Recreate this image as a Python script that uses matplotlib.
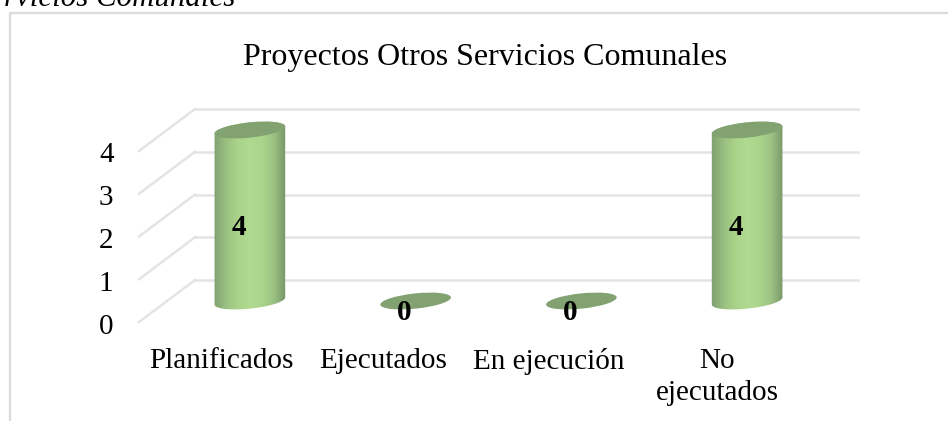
#!/usr/bin/env python3
import matplotlib

matplotlib.use("Agg")
import matplotlib.pyplot as plt
import numpy as np
from matplotlib.colors import LinearSegmentedColormap
from matplotlib.patches import Ellipse, PathPatch
from matplotlib.path import Path
from matplotlib.transforms import Affine2D

categories = ["Planificados", "Ejecutados", "En ejecución", "No\nejecutados"]
values = [4, 0, 0, 4]
yticks = [0, 1, 2, 3, 4]
title = "Proyectos Otros Servicios Comunales"
caption = "rvicios Comunales"

W, H = 948, 421
DEPTH_X, DEPTH_Y = 28, 21  # half of the fake 3D depth, px
BAR_RX, BAR_RY = 35.5, 7.6
TILT = 6
LABEL_DX = [-28, -32, -33, -30]

plt.rcParams["font.family"] = ["Liberation Serif"]

fig = plt.figure(figsize=(W / 100, H / 100), dpi=100, facecolor="white")
ax = fig.add_axes([167 / W, 1 - 301 / H, 663 / W, 171 / H])
ax.set_xlim(-0.5, 3.5)
ax.set_ylim(0, 4)
ax.set_facecolor("none")
for s in ax.spines.values():
    s.set_visible(False)

back = ax.transData + Affine2D().translate(DEPTH_X, DEPTH_Y)
front = ax.transData + Affine2D().translate(-DEPTH_X, -DEPTH_Y)

# chart frame
fig.add_artist(plt.Line2D([9.8 / W, 9.8 / W, 1], [0, 1 - 13 / H, 1 - 13 / H],
                          color="#dcdcdc", lw=1.7))

# gridlines: wall + floor side
GRID = "#e4e4e4"
x0, x1 = ax.get_xlim()
for v in yticks:
    ax.plot([x0, x1], [v, v], color=GRID, lw=1.8, transform=back, clip_on=False, zorder=1)
    p_f = front.transform((x0, v))
    p_b = back.transform((x0, v))
    ax.plot([p_f[0], p_b[0]], [p_f[1], p_b[1]], color=GRID, lw=1.8,
            transform=None, clip_on=False, zorder=1)

cmap = LinearSegmentedColormap.from_list(
    "cyl", ["#7f9f70", "#98bf80", "#aad389", "#b0da90", "#acd58c", "#9cc283", "#769668"])
grad = np.linspace(0, 1, 128).reshape(1, -1)


def ellipse_pts(cx, cy, t):
    a = np.radians(TILT)
    ex, ey = BAR_RX * np.cos(t), BAR_RY * np.sin(t)
    return cx + ex * np.cos(a) - ey * np.sin(a), cy + ex * np.sin(a) + ey * np.cos(a)


for i, v in enumerate(values):
    bx, by = ax.transData.transform((i, 0))
    tx, ty = ax.transData.transform((i, v))
    if v > 0:
        # side of the cylinder, in display px
        t_low = np.linspace(np.pi, 2 * np.pi, 40)
        t_up = np.linspace(0, np.pi, 40)
        xb, yb = ellipse_pts(bx, by, t_low)
        xt, yt = ellipse_pts(tx, ty, t_up)
        verts = np.column_stack([np.r_[xb, xt], np.r_[yb, yt]])
        body = Path(np.vstack([verts, verts[0]]), closed=True)
        im = ax.imshow(grad, cmap=cmap, aspect="auto", zorder=3,
                       extent=(i - 0.22, i + 0.22, -0.3, v + 0.3))
        im.set_clip_path(PathPatch(body, transform=None))
        im.set_clip_box(fig.bbox)
    ax.add_patch(Ellipse((0, 0), 2 * BAR_RX, 2 * BAR_RY, angle=TILT, facecolor="#82a272",
                         edgecolor="none", zorder=4, clip_on=False,
                         transform=Affine2D().translate(tx, ty)))
    ax.annotate(str(v), (i, v / 2), xytext=(-11, -12), textcoords="offset pixels",
                ha="center", va="center", fontsize=21, fontweight="bold", zorder=6,
                annotation_clip=False)

ax.set_xlim(-0.5, 3.5)
ax.set_ylim(0, 4)

ax.set_yticks(yticks)
ax.set_xticks(range(len(categories)))
ax.set_xticklabels(categories, linespacing=1.3)
ax.tick_params(axis="both", length=0, labelsize=21, labelcolor="black")
ax.tick_params(axis="y", pad=38.5)
ax.tick_params(axis="x", pad=34)
for lab in ax.get_yticklabels():
    lab.set_transform(lab.get_transform() + Affine2D().translate(0, -DEPTH_Y - 1.5))
for lab, dx in zip(ax.get_xticklabels(), LABEL_DX):
    lab.set_transform(lab.get_transform() + Affine2D().translate(dx, 0))

fig.text(485 / W, 1 - 57 / H, title, ha="center", va="center", fontsize=23, color="black")
fig.text(4 / W, 1 - 6.5 / H, caption, ha="left", va="baseline", fontsize=22.2, fontstyle="italic")

fig.savefig("out.png", dpi=100, facecolor="white")
